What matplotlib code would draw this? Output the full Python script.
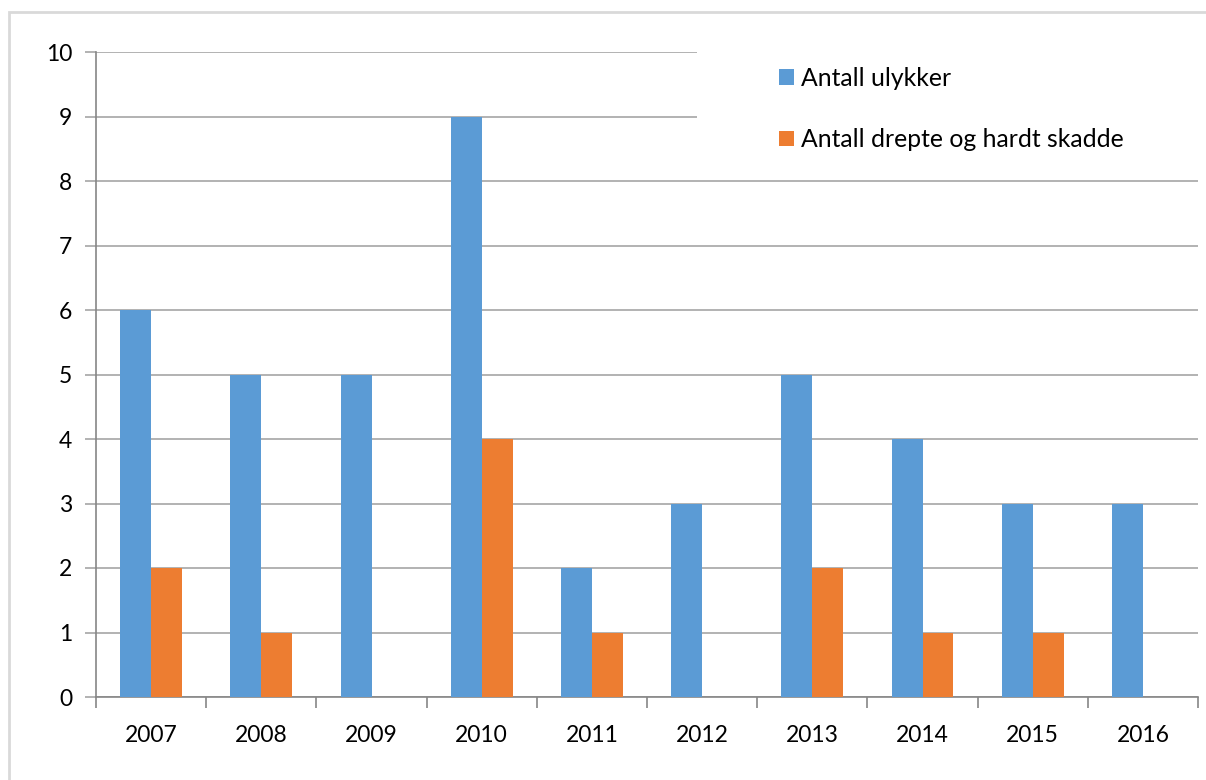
import matplotlib
matplotlib.use("Agg")
import matplotlib.pyplot as plt
import numpy as np
from matplotlib.patches import Rectangle

years = ["2007", "2008", "2009", "2010", "2011", "2012", "2013", "2014", "2015", "2016"]
ulykker = [6, 5, 5, 9, 2, 3, 5, 4, 3, 3]
drepte = [2, 1, 0, 4, 1, 0, 2, 1, 1, 0]
labels = ["Antall ulykker", "Antall drepte og hardt skadde"]

plt.rcParams['font.family'] = ['Lato', 'DejaVu Sans']

fig = plt.figure(figsize=(12.06, 7.8), dpi=100)
fig.patches.append(Rectangle((9 / 1206, -0.1), 1.1, 1 - 12 / 780 + 0.1,
                             transform=fig.transFigure, fill=False,
                             edgecolor='#d9d9d9', lw=2))
ax = fig.add_axes([96 / 1206, 1 - 697 / 780, 1102 / 1206, 645 / 780])

x = np.arange(len(years))
w = 0.28
ax.bar(x - w / 2, ulykker, w, color='#5B9BD5', label=labels[0], zorder=3)
ax.bar(x + w / 2, drepte, w, color='#ED7D31', label=labels[1], zorder=3)

ax.set_xlim(-0.5, len(years) - 0.5)
ax.set_ylim(0, 10)
ax.set_yticks(range(11))
ax.yaxis.grid(True, color='#a6a6a6', lw=1.2, zorder=0)
ax.set_xticks(x)
ax.set_xticklabels(years)
ax.set_xticks(np.arange(-0.5, len(years)), minor=True)
ax.tick_params(axis='x', which='major', length=0, pad=20, labelsize=16.5)
ax.tick_params(axis='x', which='minor', length=8, color='#868686', width=1.2)
ax.tick_params(axis='y', length=8, color='#a6a6a6', width=1.2, pad=9, labelsize=16.5)

for s in ['top', 'right']:
    ax.spines[s].set_visible(False)
for s in ['left', 'bottom']:
    ax.spines[s].set_color('#868686')
    ax.spines[s].set_linewidth(1.2)

# white area behind the legend hides the top gridlines, as in the original
ax.add_patch(Rectangle((697 / 1206, 1 - 165 / 780), 503 / 1206, 122 / 780,
                       transform=fig.transFigure, facecolor='white',
                       edgecolor='none', zorder=4, clip_on=False))

leg = ax.legend(loc='upper left', bbox_to_anchor=(779 / 1206, 1 - 67 / 780),
                bbox_transform=fig.transFigure, frameon=False,
                fontsize=17.8, handlelength=0.6, handleheight=0.6, handletextpad=0.3,
                labelspacing=1.55, borderpad=0, borderaxespad=0)
leg.set_zorder(5)

fig.savefig("out.png", dpi=100, facecolor='white')
